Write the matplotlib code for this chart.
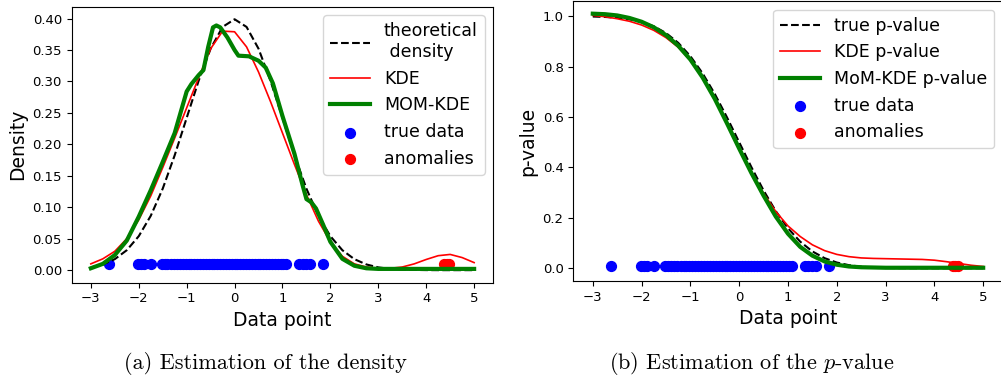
import numpy as np
import matplotlib.pyplot as plt

plt.rcParams['mathtext.fontset'] = 'cm'

x_grid = [-3.0, -2.75, -2.5, -2.25, -2.0, -1.75, -1.5, -1.25, -1.0, -0.75, -0.5,
          -0.25, 0.0, 0.25, 0.5, 0.75, 1.0, 1.25, 1.5, 1.75, 2.0, 2.25, 2.5,
          2.75, 3.0, 3.25, 3.5, 3.75, 4.0, 4.25, 4.5, 4.75, 5.0]

# (a) density
theo_density = [0.0044, 0.0091, 0.0175, 0.0317, 0.054, 0.0863, 0.1295, 0.1826,
                0.242, 0.3011, 0.3521, 0.3867, 0.3989, 0.3867, 0.3521, 0.3011,
                0.242, 0.1826, 0.1295, 0.0863, 0.054, 0.0317, 0.0175, 0.0091,
                0.0044, 0.002, 0.0009, 0.0004, 0.0001, 0.0, 0.0, 0.0, 0.0]
kde_density = [0.010, 0.018, 0.030, 0.050, 0.080, 0.118, 0.163, 0.210, 0.258,
               0.306, 0.352, 0.380, 0.379, 0.355, 0.315, 0.268, 0.218, 0.168,
               0.120, 0.078, 0.045, 0.022, 0.010, 0.005, 0.003, 0.003, 0.005,
               0.010, 0.017, 0.023, 0.025, 0.020, 0.012]
mom_x = [-3.0, -2.75, -2.5, -2.25, -2.0, -1.75, -1.5, -1.25, -1.0, -0.9, -0.75,
         -0.65, -0.55, -0.45, -0.38, -0.3, -0.15, 0.0, 0.08, 0.3, 0.5, 0.65,
         0.8, 1.0, 1.25, 1.42, 1.5, 1.6, 1.7, 1.85, 2.0, 2.25, 2.5, 2.75, 3.0,
         4.0, 5.0]
mom_density = [0.003, 0.010, 0.024, 0.047, 0.085, 0.127, 0.172, 0.218, 0.284,
               0.296, 0.310, 0.318, 0.355, 0.386, 0.389, 0.386, 0.370, 0.350,
               0.341, 0.340, 0.333, 0.322, 0.297, 0.245, 0.185, 0.135, 0.113,
               0.108, 0.098, 0.072, 0.045, 0.018, 0.007, 0.003, 0.002, 0.002,
               0.002]

# (b) p-value
true_pval = [0.9987, 0.997, 0.9938, 0.9878, 0.9772, 0.9599, 0.9332, 0.8944,
             0.8413, 0.7734, 0.6915, 0.5987, 0.5, 0.4013, 0.3085, 0.2266,
             0.1587, 0.1056, 0.0668, 0.0401, 0.0228, 0.0122, 0.0062, 0.003,
             0.0013, 0.0006, 0.0002, 0.0001, 0.0, 0.0, 0.0, 0.0, 0.0]
kde_pval = [1.003, 0.998, 0.990, 0.980, 0.965, 0.944, 0.915, 0.877, 0.825,
            0.757, 0.673, 0.577, 0.478, 0.383, 0.297, 0.225, 0.168, 0.126,
            0.093, 0.070, 0.055, 0.046, 0.041, 0.039, 0.038, 0.037, 0.036,
            0.035, 0.032, 0.026, 0.019, 0.012, 0.007]
mom_pval = [1.010, 1.008, 1.003, 0.993, 0.978, 0.956, 0.925, 0.883, 0.828,
            0.757, 0.672, 0.575, 0.475, 0.378, 0.288, 0.205, 0.137, 0.085,
            0.050, 0.027, 0.014, 0.007, 0.004, 0.003, 0.002, 0.002, 0.002,
            0.002, 0.002, 0.002, 0.002, 0.002, 0.002]

true_data = [-2.62, -2.02, -1.95, -1.88, -1.75, -1.52, -1.46, -1.4, -1.33,
             -1.27, -1.2, -1.14, -1.08, -1.02, -0.96, -0.9, -0.84, -0.78,
             -0.72, -0.66, -0.6, -0.54, -0.48, -0.42, -0.36, -0.3, -0.24,
             -0.18, -0.12, -0.06, 0.0, 0.06, 0.12, 0.18, 0.24, 0.3, 0.36,
             0.42, 0.48, 0.54, 0.6, 0.66, 0.72, 0.78, 0.84, 0.9, 0.96, 1.02,
             1.08, 1.35, 1.42, 1.5, 1.57, 1.85]
anomalies = [4.38, 4.43, 4.48]
dot_level = 0.01

fig = plt.figure(figsize=(10.01, 3.81), dpi=100)
ax1 = fig.add_axes([0.0716, 0.258, 0.4212, 0.7244])
ax2 = fig.add_axes([0.5727, 0.2625, 0.429, 0.735])

ax1.plot(x_grid, theo_density, 'k--', lw=1.5, label='theoretical\n density')
ax1.plot(x_grid, kde_density, color='red', lw=1.2, label='KDE')
ax1.plot(mom_x, mom_density, color='green', lw=3, label='MOM-KDE')
ax1.scatter(true_data, [dot_level] * len(true_data), color='blue', s=50,
            label='true data')
ax1.scatter(anomalies, [dot_level] * len(anomalies), color='red', s=50,
            label='anomalies')
ax1.set_xlabel('Data point', fontsize=13.5)
ax1.set_ylabel('Density', fontsize=13.5)
ax1.set_xticks(range(-3, 6))
ax1.tick_params(labelsize=9.5)
ax1.legend(fontsize=12.5, loc='upper right', handlelength=2.3)

ax2.plot(x_grid, true_pval, 'k--', lw=1.5, label='true p-value')
ax2.plot(x_grid, kde_pval, color='red', lw=1.2, label='KDE p-value')
ax2.plot(x_grid, mom_pval, color='green', lw=3, label='MoM-KDE p-value')
ax2.scatter(true_data, [dot_level] * len(true_data), color='blue', s=50,
            label='true data')
ax2.scatter(anomalies, [dot_level] * len(anomalies), color='red', s=50,
            label='anomalies')
ax2.set_xlabel('Data point', fontsize=13.5)
ax2.set_ylabel('p-value', fontsize=13.5)
ax2.set_xticks(range(-3, 6))
ax2.tick_params(labelsize=9.5)
ax2.legend(fontsize=12.5, loc='upper right', handlelength=2.3)

fig.text(0.265, 0.045, '(a) Estimation of the density', fontsize=16,
         family='cmr10', ha='center', va='center')
fig.text(0.751, 0.045, '(b) Estimation of the $p$-value', fontsize=16,
         family='cmr10', ha='center', va='center')

fig.savefig('out.png', dpi=100)
